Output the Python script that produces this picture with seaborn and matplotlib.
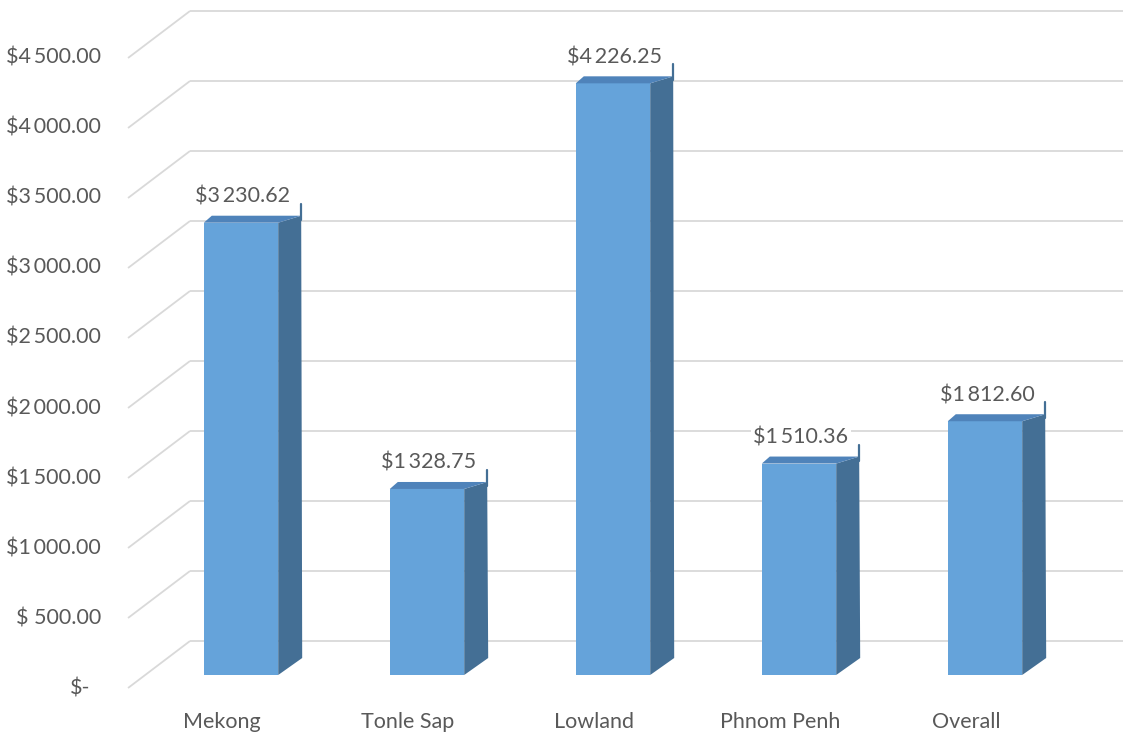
import matplotlib
matplotlib.use("Agg")
import matplotlib.pyplot as plt
from matplotlib.patches import Polygon
import seaborn as sns
import pandas as pd

# Average value per region
categories = ["Mekong", "Tonle Sap", "Lowland", "Phnom Penh", "Overall"]
values = [3230.62, 1328.75, 4226.25, 1510.36, 1812.60]
tick_values = [0, 500, 1000, 1500, 2000, 2500, 3000, 3500, 4000, 4500]

FRONT = "#65a3da"
SIDE = "#446f95"
TOP = "#4f83ba"
GRID = "#d9d9d9"
TEXT = "#595959"
FS = 15.5

sns.set_theme(style="white")
plt.rcParams["font.family"] = ["Lato", "DejaVu Sans"]

fig = plt.figure(figsize=(11.23, 7.34), dpi=100)
ax = fig.add_axes([0, 0, 1, 1])

df = pd.DataFrame({"region": categories, "value": values})
sns.barplot(data=df, x="region", y="value", width=0.4, color=FRONT,
            saturation=1, linewidth=0, ax=ax, zorder=3)
ax.set_xlim(-1.2957, 4.742)
ax.set_ylim(-421.4, 4821.4)
ax.axis("off")


def shift(x, y, dxp, dyp):
    """Move a data point by a screen offset given in pixels (y up)."""
    px, py = ax.transData.transform((x, y))
    return tuple(ax.transData.inverted().transform((px + dxp, py + dyp)))


def money(v):
    return "$" + f"{v:,.2f}".replace(",", "\u2009")


# Depth of the floor relative to the bar plane (pixels)
FRONT_DX, FRONT_DY = -17, -13
BACK_DX, BACK_DY = 45, 34
wall_x = -0.516
x_right = ax.get_xlim()[1]

for v in tick_values:
    p_front = shift(wall_x, v, FRONT_DX, FRONT_DY)
    p_back = shift(wall_x, v, BACK_DX, BACK_DY)
    ax.plot([p_front[0], p_back[0]], [p_front[1], p_back[1]],
            color=GRID, lw=1.3, zorder=1, solid_capstyle="butt")
    ax.plot([p_back[0], x_right], [p_back[1], p_back[1]],
            color=GRID, lw=1.3, zorder=1, solid_capstyle="butt")
    pad = 27
    if v == 0:
        lab = "$-"
        pad = 38  # accounting format leaves room after the dash
    elif v < 1000:
        lab = "$ " + f"{v:.2f}"
    else:
        lab = money(v)
    tx, ty = shift(wall_x, v, FRONT_DX - pad, FRONT_DY)
    ax.text(tx, ty, lab, ha="right", va="center", fontsize=FS, color=TEXT)

# Side and top faces of each bar
for patch, val, cat in zip(ax.patches, values, categories):
    x0 = patch.get_x()
    x1 = x0 + patch.get_width()
    base = patch.get_y()
    top = base + patch.get_height()
    side = Polygon([(x1, base), shift(x1, base, 24, 17),
                    shift(x1, top, 23, 7), (x1, top)],
                   closed=True, facecolor=SIDE, edgecolor="none", zorder=3)
    ax.add_patch(side)
    lid = Polygon([(x0, top), (x1, top), shift(x1, top, 23, 7),
                   shift(x0, top, 8, 7)],
                  closed=True, facecolor=TOP, edgecolor="none", zorder=3)
    ax.add_patch(lid)
    lx0, ly0 = shift(x1, top, 23, 3)
    lx1, ly1 = shift(x1, top, 23, 19)
    ax.plot([lx0, lx1], [ly0, ly1], color=SIDE, lw=1.6, zorder=4)

    cx = (x0 + x1) / 2
    vx, vy = shift(cx, top, 2, 26)
    ax.text(vx, vy, money(val),
            ha="center", va="center", fontsize=FS, color=TEXT, zorder=5,
            bbox=dict(boxstyle="square,pad=0.1", fc="white", ec="none"))

    cxl, cyl = shift(cx, base, -19, -47)
    ax.text(cxl, cyl, cat, ha="center", va="center", fontsize=FS, color=TEXT)

fig.savefig("out.png", dpi=100)
